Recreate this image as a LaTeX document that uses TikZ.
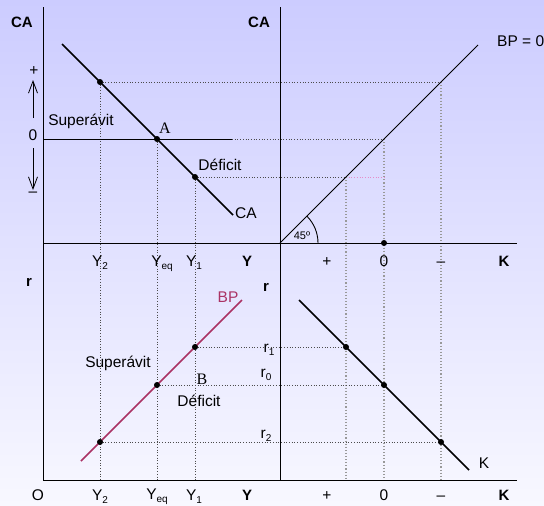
\documentclass[tikz,border=0pt]{standalone}
\usepackage{fontspec}
\setmainfont{Liberation Sans}
\newfontfamily\seriffont{Liberation Serif}
\usetikzlibrary{arrows.meta}
\definecolor{bgtop}{RGB}{204,204,255}
\definecolor{bgbot}{RGB}{248,248,255}
\definecolor{bpcol}{RGB}{170,50,100}
\definecolor{pinkdot}{RGB}{230,140,200}
\newcommand{\sbs}[1]{\raisebox{-3pt}{\fontsize{10}{12}\selectfont #1}}
\begin{document}
\begin{tikzpicture}[x=1pt,y=-1pt,
  lbl/.style={font=\fontsize{15.5}{18}\selectfont, inner sep=0pt},
  blbl/.style={font=\fontsize{15}{18}\selectfont\bfseries, inner sep=0pt},
  slbl/.style={font=\fontsize{16}{18}\selectfont\seriffont, inner sep=0pt},
  axis/.style={line width=1pt, black},
  curve/.style={line width=1.6pt, black},
  guide/.style={dotted, line width=0.7pt, black!70},
  vguide/.style={dotted, line width=1.1pt, black!40},
  dot/.style={circle, fill=black, inner sep=0pt, minimum size=6pt},
  sarrow/.style={line width=0.8pt, -{Straight Barb[length=12pt,width=9pt]}}
]
\useasboundingbox (0,0) rectangle (544,506);
\shade[top color=bgtop, bottom color=bgbot] (0,0) rectangle (544,506);

% key coordinates
\coordinate (Ltop) at (43,7);
\coordinate (O) at (43,480);
\coordinate (Mtop) at (280,7);
\coordinate (Mbot) at (280,480);
\coordinate (Mid) at (280,243);
\coordinate (Lmid) at (43,243);
\coordinate (Rmid) at (517,243);
\coordinate (Rbot) at (517,480);
\coordinate (Z0) at (43,139);
\coordinate (Z1) at (232,139);

% CA curve
\coordinate (CAs) at (62,44);
\coordinate (CAe) at (233,215);
\coordinate (P2) at (100,82);
\coordinate (PA) at (157,139);
\coordinate (P1) at (195,177);
% 45 degree line
\coordinate (FE) at (478,45);
\coordinate (Q2) at (441,82);
\coordinate (Q0) at (384,139);
\coordinate (Q1) at (346,177);
\coordinate (QK) at (384,177);
\coordinate (Kax) at (384,243);
% BP curve
\coordinate (BPs) at (81,461);
\coordinate (BPe) at (242,300);
\coordinate (B2) at (100,442);
\coordinate (B0) at (157,385);
\coordinate (B1) at (195,347);
% K curve
\coordinate (Ks) at (299,300);
\coordinate (Ke) at (469,470);
\coordinate (K1) at (346,347);
\coordinate (K0) at (384,385);
\coordinate (K2) at (441,442);
% bottom feet
\coordinate (F2) at (100,480);
\coordinate (FA) at (157,480);
\coordinate (F1) at (195,480);
\coordinate (G1) at (346,480);
\coordinate (G0) at (384,480);
\coordinate (G2) at (441,480);

% guides
\draw[guide] (P2) -- (Q2);
\draw[guide] (Z1) -- (Q0);
\draw[guide] (P1) -- (Q1);
\draw[dotted, line width=0.7pt, pinkdot] (Q1) -- (QK);
\draw[guide] (P2) -- (F2);
\draw[guide] (PA) -- (FA);
\draw[guide] (P1) -- (F1);
\draw[vguide] (Q2) -- (G2);
\draw[vguide] (Q0) -- (G0);
\draw[vguide] (Q1) -- (G1);
\draw[guide] (B1) -- (K1);
\draw[guide] (B0) -- (K0);
\draw[guide] (B2) -- (K2);

% axes
\draw[axis] (Ltop) -- (O) -- (Rbot);
\draw[axis] (Lmid) -- (Rmid);
\draw[axis] (Mtop) -- (Mbot);
\draw[axis] (Z0) -- (Z1);

% curves
\draw[curve] (CAs) -- (CAe);
\draw[line width=1pt] (Mid) -- (FE);
\draw[curve, bpcol] (BPs) -- (BPe);
\draw[curve] (Ks) -- (Ke);
\draw[line width=0.9pt] (318,243) arc[start angle=0, end angle=-45, radius=38];

% dots
\foreach \p in {P2,PA,P1,B2,B0,B1,K1,K0,K2,Kax} \node[dot] at (\p) {};

% arrows on left
\coordinate (au1) at (33,118);
\coordinate (au2) at (33,80);
\coordinate (ad1) at (33,148);
\coordinate (ad2) at (33,190);
\draw[sarrow] (au1) -- (au2);
\draw[sarrow] (ad1) -- (ad2);

% labels upper
\node[blbl] (tCA1) at (22,22) {CA};
\node[blbl] (tCA2) at (259,22) {CA};
\node[lbl] (tplus) at (34,71) {+};
\node[lbl] (tzero) at (33,135) {0};
\node[lbl] (tminus) at (33,194) {–};
\node[lbl] (tsup1) at (81,121) {Superávit};
\node[slbl] (tA) at (165,128) {A};
\node[lbl] (tdef1) at (220,165) {Déficit};
\node[lbl] (tCA3) at (246,213) {CA};
\node[lbl, anchor=west] (tBP0) at (497,41) {BP = 0};
\node[font=\fontsize{11}{12}\selectfont, inner sep=0pt] (t45) at (302,236) {45º};

% middle row
\node[lbl, anchor=base] (mY2) at (100,266) {Y\sbs{2}};
\node[lbl, anchor=base] (mYeq) at (162,266) {Y\sbs{eq}};
\node[lbl, anchor=base] (mY1) at (194,266) {Y\sbs{1}};
\node[blbl, anchor=base] (mY) at (247,266) {Y};
\node[lbl, anchor=base] (mplus) at (327,266) {+};
\node[lbl, anchor=base] (mzero) at (384,266) {0};
\node[lbl, anchor=base] (mminus) at (441,266) {–};
\node[blbl, anchor=base] (mK) at (504,266) {K};

% labels lower
\node[blbl] (tr1) at (29,282) {r};
\node[blbl] (tr2) at (266,287) {r};
\node[lbl, bpcol] (tBP) at (228,297) {BP};
\node[lbl, anchor=base] (tr1s) at (269,352) {r\sbs{1}};
\node[lbl, anchor=base] (tr0s) at (266,377) {r\sbs{0}};
\node[lbl, anchor=base] (tr2s) at (266,438) {r\sbs{2}};
\node[lbl] (tsup2) at (118,363) {Superávit};
\node[slbl] (tB) at (202,379) {B};
\node[lbl] (tdef2) at (199,401) {Déficit};
\node[lbl] (tK) at (484,463) {K};

% bottom row
\node[lbl, anchor=base] (bO) at (38,500) {O};
\node[lbl, anchor=base] (bY2) at (100,500) {Y\sbs{2}};
\node[lbl, anchor=base] (bYeq) at (157,499) {Y\sbs{eq}};
\node[lbl, anchor=base] (bY1) at (194,500) {Y\sbs{1}};
\node[blbl, anchor=base] (bY) at (247,500) {Y};
\node[lbl, anchor=base] (bplus) at (327,500) {+};
\node[lbl, anchor=base] (bzero) at (384,500) {0};
\node[lbl, anchor=base] (bminus) at (441,500) {–};
\node[blbl, anchor=base] (bK) at (504,500) {K};
\end{tikzpicture}
\end{document}
